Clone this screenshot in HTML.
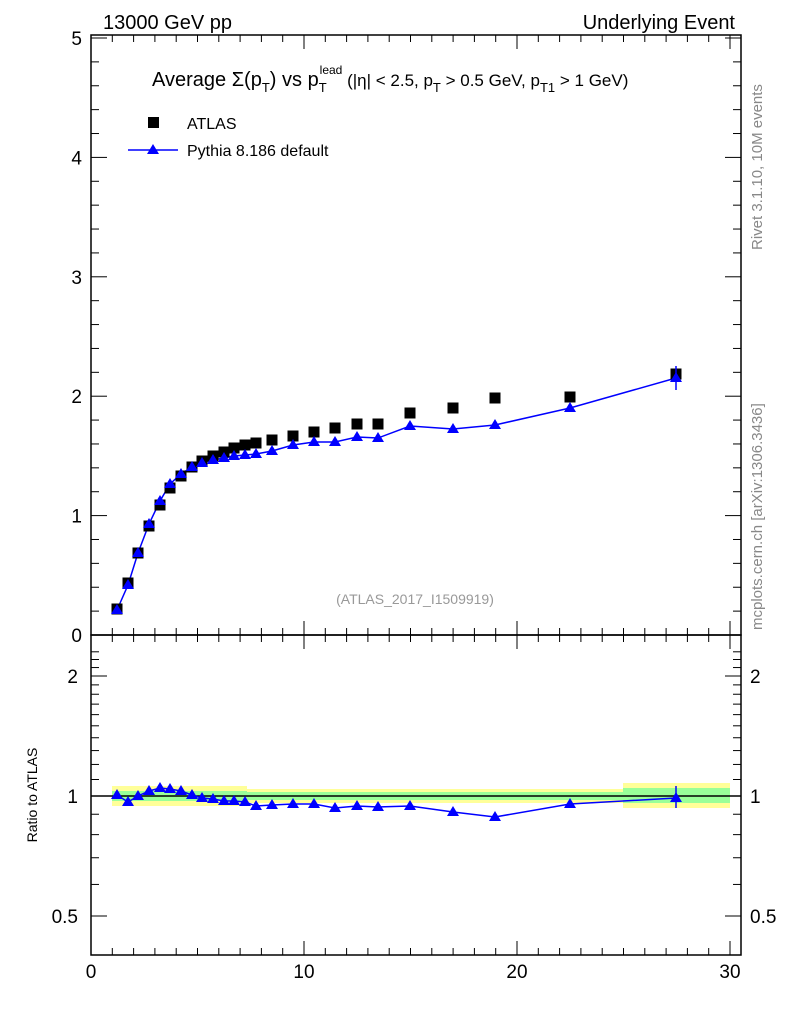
<!DOCTYPE html>
<html><head><meta charset="utf-8"><style>
body{margin:0;background:#fff}
svg{display:block;font-family:"Liberation Sans",sans-serif}
</style></head><body>
<svg id="s" width="786" height="1024" xmlns="http://www.w3.org/2000/svg">
<text x="103" y="29" font-size="20">13000 GeV pp</text>
<text x="735" y="29" font-size="20" text-anchor="end">Underlying Event</text>
<text x="152" y="86" font-size="20">Average Σ(p<tspan font-size="13" dy="6">T</tspan><tspan dy="-6">) vs p</tspan><tspan font-size="13" dy="6">T</tspan><tspan font-size="12" dx="-7" dy="-18">lead</tspan><tspan font-size="17" dy="12"> (|η| &lt; 2.5, p</tspan><tspan font-size="13" dy="6">T</tspan><tspan font-size="17" dy="-6"> &gt; 0.5 GeV, p</tspan><tspan font-size="13" dy="6">T1</tspan><tspan font-size="17" dy="-6"> &gt; 1 GeV)</tspan></text>
<rect x="148" y="117" width="11" height="11" fill="#000"/>
<text x="187" y="129" font-size="16">ATLAS</text>
<line x1="128" y1="150" x2="178" y2="150" stroke="#00f" stroke-width="1.5"/>
<polygon points="153,144 147,154 159,154" fill="#00f"/>
<text x="187" y="156" font-size="16">Pythia 8.186 default</text>
<text x="415" y="604" font-size="14" fill="#999" text-anchor="middle">(ATLAS_2017_I1509919)</text>
<text transform="translate(762,250) rotate(-90)" font-size="15" fill="#888">Rivet 3.1.10,  10M events</text>
<text transform="translate(762,630) rotate(-90)" font-size="15" fill="#888">mcplots.cern.ch [arXiv:1306.3436]</text>
<text transform="translate(37,795) rotate(-90)" font-size="14" text-anchor="middle">Ratio to ATLAS</text>
<g id="g"></g>
</svg>
<script>
var g=document.getElementById('g'),h='';
function X(v){return 91+v*21.3;}
h+='<rect x="112" y="786" width="135" height="20" fill="#ffff99"/><rect x="247" y="789" width="376" height="14" fill="#ffff99"/><rect x="623" y="783" width="107" height="25" fill="#ffff99"/>';
h+='<rect x="112" y="791" width="135" height="10" fill="#99ff99"/><rect x="247" y="792" width="376" height="8" fill="#99ff99"/><rect x="623" y="788" width="107" height="15" fill="#99ff99"/>';
h+='<line x1="91" y1="796" x2="741" y2="796" stroke="#000" stroke-width="1.5"/>';
h+='<rect x="91" y="35" width="650" height="600" fill="none" stroke="#000" stroke-width="1.5"/><rect x="91" y="635" width="650" height="320" fill="none" stroke="#000" stroke-width="1.5"/>';
for(var i=0;i<=30;i++){var x=X(i),L=i%10==0?14:7;
 h+='<line x1="'+x+'" y1="635" x2="'+x+'" y2="'+(635-L)+'" stroke="#000"/><line x1="'+x+'" y1="35" x2="'+x+'" y2="'+(35+L)+'" stroke="#000"/>';
 h+='<line x1="'+x+'" y1="955" x2="'+x+'" y2="'+(955-L)+'" stroke="#000"/><line x1="'+x+'" y1="635" x2="'+x+'" y2="'+(635+L)+'" stroke="#000"/>';
 if(i%10==0)h+='<text x="'+x+'" y="978" font-size="19" text-anchor="middle">'+i+'</text>';}
for(var k=0;k<=25;k++){var y=635-k*0.2*119.4,L=k%5==0?16:8;
 h+='<line x1="91" y1="'+y+'" x2="'+(91+L)+'" y2="'+y+'" stroke="#000"/><line x1="741" y1="'+y+'" x2="'+(741-L)+'" y2="'+y+'" stroke="#000"/>';
 if(k%5==0)h+='<text x="82" y="'+(y+7)+'" font-size="19" text-anchor="end">'+(k/5)+'</text>';}
function RY(r){return 796-Math.log(r)/Math.LN2*120;}
var rt=[0.4,0.5,0.6,0.7,0.8,0.9,1,1.1,1.2,1.3,1.4,1.5,1.6,1.7,1.8,1.9,2,2.1,2.2,2.3];
rt.forEach(function(r){var y=RY(r);if(y<636||y>954)return;var L=(r==0.5||r==1||r==2)?16:8;
 h+='<line x1="91" y1="'+y+'" x2="'+(91+L)+'" y2="'+y+'" stroke="#000"/><line x1="741" y1="'+y+'" x2="'+(741-L)+'" y2="'+y+'" stroke="#000"/>';
 if(L==16){h+='<text x="78" y="'+(y+7)+'" font-size="19" text-anchor="end">'+r+'</text><text x="750" y="'+(y+7)+'" font-size="19">'+r+'</text>';}});
var px=[117,128,138,149,160,170,181,192,202,213,224,234,245,256,272,293,314,335,357,378,410,453,495,570,676];
var at=[609,583,553,526,505,488,476,467,461,456,452,448,445,443,440,436,432,428,424,424,413,408,398,397,374];
var py=[610,585,553,524,501,484,474,467,463,460,458,456,455,454,451,445,442,442,437,438,426,429,425,408,378];
var ry=[795,802,796,791,788,789,791,795,798,799,801,801,802,806,805,804,804,808,806,807,806,812,817,804,798];
function tri(x,y){return '<polygon points="'+x+','+(y-6)+' '+(x-6)+','+(y+4)+' '+(x+6)+','+(y+4)+'" fill="#00f"/>';}
h+='<polyline points="'+px.map(function(x,i){return x+','+py[i]}).join(' ')+'" fill="none" stroke="#00f" stroke-width="1.5"/>';
h+='<polyline points="'+px.map(function(x,i){return x+','+ry[i]}).join(' ')+'" fill="none" stroke="#00f" stroke-width="1.5"/>';
px.forEach(function(x,i){h+='<rect x="'+(x-5.5)+'" y="'+(at[i]-5.5)+'" width="11" height="11" fill="#000"/>';});
h+='<line x1="676" y1="366" x2="676" y2="390" stroke="#00f" stroke-width="1.5"/><line x1="676" y1="786" x2="676" y2="808" stroke="#00f" stroke-width="1.5"/>';
px.forEach(function(x,i){h+=tri(x,py[i])+tri(x,ry[i]);});
g.innerHTML=h;
</script>
</body></html>
